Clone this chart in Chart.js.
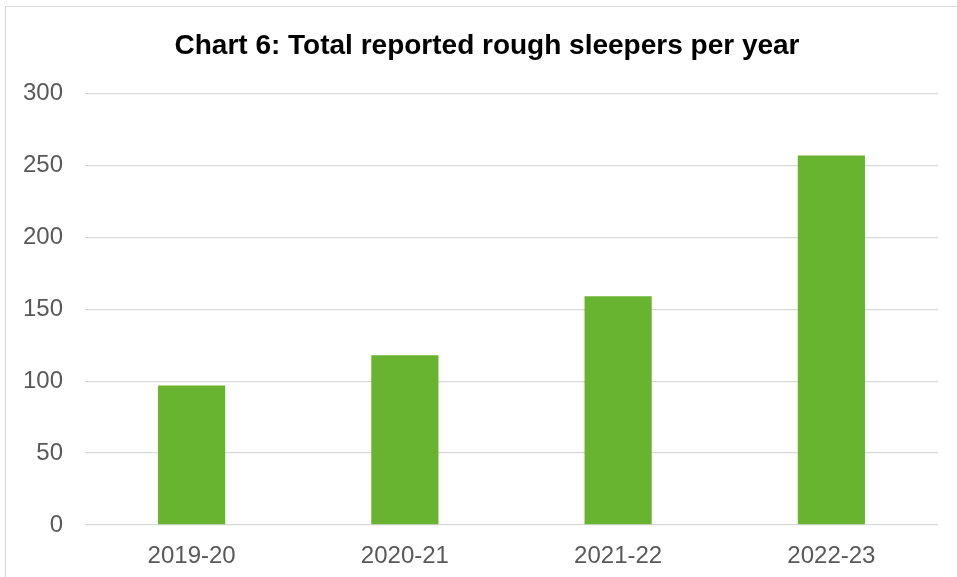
<!DOCTYPE html>
<html>
<head>
<meta charset="utf-8">
<script src="https://cdn.jsdelivr.net/npm/chart.js@4.4.1/dist/chart.umd.min.js"></script>
<style>
  html, body { margin: 0; padding: 0; background: #ffffff; overflow: hidden; }
  #frame {
    position: absolute; left: 5px; top: 6px;
    width: 1000px; height: 700px;
    border: 1px solid #d9d9d9;
    box-sizing: border-box;
  }
  #chart { position: absolute; left: 0; top: 0; }
</style>
</head>
<body>
<div id="frame"></div>
<canvas id="chart" width="957" height="577"></canvas>
<script>
// Rough sleepers reported each year
var years = ["2019-20", "2020-21", "2021-22", "2022-23"];
var sleepers = [97, 118, 159, 257];
var yTicks = [0, 50, 100, 150, 200, 250, 300];

var fontFamily = "'Liberation Sans', Arial, sans-serif";

// centre the title on the whole frame rather than on the layout box
var titleCentre = {
  id: "titleCentre",
  afterLayout: function(chart) {
    if (chart.titleBlock) {
      chart.titleBlock.left = 17;
      chart.titleBlock.right = 957;
    }
  }
};

new Chart(document.getElementById("chart").getContext("2d"), {
  type: "bar",
  data: {
    labels: years,
    datasets: [{
      label: "Rough sleepers",
      data: sleepers,
      backgroundColor: "#68b32f",
      borderWidth: 0,
      categoryPercentage: 1,
      barPercentage: 0.315
    }]
  },
  options: {
    responsive: false,
    animation: false,
    layout: { padding: { left: 0, right: 19, top: 0, bottom: 0 } },
    plugins: {
      legend: { display: false },
      tooltip: { enabled: false },
      title: {
        display: true,
        text: "Chart 6: Total reported rough sleepers per year",
        color: "#000000",
        font: { family: fontFamily, size: 28, weight: "bold" },
        padding: { top: 29, bottom: 31 }
      }
    },
    scales: {
      x: {
        grid: { display: false, drawTicks: false },
        border: { display: false },
        ticks: {
          color: "#595959",
          font: { family: fontFamily, size: 24 },
          padding: 17
        },
        afterFit: function(scale) { scale.height = 52; }
      },
      y: {
        min: 0,
        max: 300,
        afterBuildTicks: function(scale) {
          scale.ticks = yTicks.map(function(v) { return { value: v }; });
        },
        grid: { color: "#d9d9d9", lineWidth: 1.3, drawTicks: false },
        border: { display: false },
        ticks: {
          color: "#595959",
          font: { family: fontFamily, size: 24 },
          padding: 22
        },
        afterFit: function(scale) { scale.width = 85; }
      }
    }
  },
  plugins: [titleCentre]
});
</script>
</body>
</html>
